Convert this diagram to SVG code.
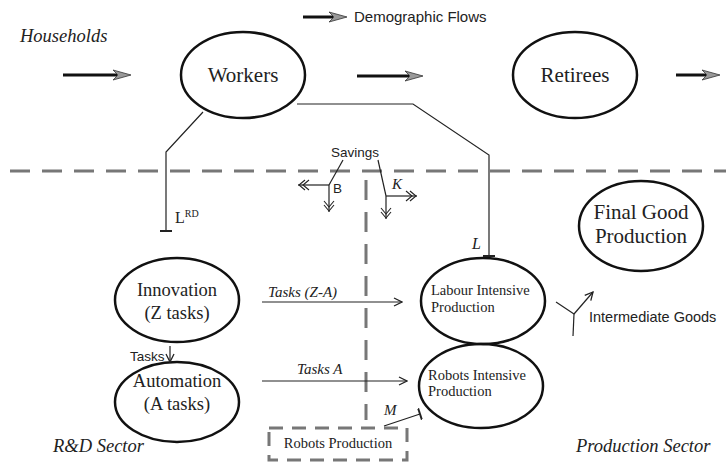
<svg xmlns="http://www.w3.org/2000/svg" width="726" height="462" viewBox="0 0 726 462">
<defs>
<style>
.ell{fill:none;stroke:#111;stroke-width:2.5}
.serif{font-family:"Liberation Serif","DejaVu Serif",serif;fill:#222}
.sans{font-family:"Liberation Sans","DejaVu Sans",sans-serif;fill:#222}
.it{font-style:italic}
.thin{fill:none;stroke:#222;stroke-width:1.2}
.flow{fill:none;stroke:#111;stroke-width:3}
.dash{fill:none;stroke:#777;stroke-width:3;stroke-dasharray:20 12}
</style>
<marker id="demo" viewBox="0 0 18 12" refX="4" refY="6" markerWidth="18" markerHeight="12" markerUnits="userSpaceOnUse" orient="auto">
<path d="M0,1 L18,6 L0,11 L5,6 Z" fill="#999" stroke="#333" stroke-width="0.8"/>
</marker>
<marker id="arr" viewBox="0 0 10 10" refX="9" refY="5" markerWidth="10" markerHeight="10" markerUnits="userSpaceOnUse" orient="auto">
<path d="M1,1 L9,5 L1,9" fill="none" stroke="#222" stroke-width="1.3"/>
</marker>
<marker id="dbl" viewBox="0 0 14 12" refX="13" refY="6" markerWidth="14" markerHeight="12" markerUnits="userSpaceOnUse" orient="auto">
<path d="M6,1 L12,6 L6,11 M2,1 L8,6 L2,11" fill="none" stroke="#222" stroke-width="1.1"/>
</marker>
<marker id="tbar" viewBox="0 0 12 12" refX="6" refY="6" markerWidth="12" markerHeight="12" markerUnits="userSpaceOnUse" orient="auto">
<path d="M6,0 L6,12" fill="none" stroke="#222" stroke-width="2"/>
</marker>
</defs>
<rect width="726" height="462" fill="#fff"/>

<text class="serif it" x="20" y="42" font-size="18.5">Households</text>
<text class="serif it" x="53" y="452" font-size="18.5">R&amp;D Sector</text>
<text class="serif it" x="576" y="452" font-size="18.5">Production Sector</text>

<g id="legend">
<line class="flow" x1="303" y1="17" x2="333" y2="17" marker-end="url(#demo)"/>
<text class="sans" x="354" y="22" font-size="15">Demographic Flows</text>
</g>

<g id="separators">
<line class="dash" x1="10" y1="171" x2="726" y2="171"/>
<line class="dash" x1="366" y1="180" x2="366" y2="420"/>
</g>

<g id="workers">
<ellipse class="ell" cx="243" cy="75" rx="62" ry="43"/>
<text class="serif" x="243" y="82" font-size="21" text-anchor="middle">Workers</text>
</g>
<g id="retirees">
<ellipse class="ell" cx="575" cy="75" rx="62" ry="43"/>
<text class="serif" x="575" y="82" font-size="21" text-anchor="middle">Retirees</text>
</g>
<g id="innovation">
<ellipse class="ell" cx="177" cy="300" rx="62" ry="42"/>
<text class="serif" x="177" y="296" font-size="18.5" text-anchor="middle">Innovation</text>
<text class="serif" x="177" y="319" font-size="18.5" text-anchor="middle">(Z tasks)</text>
</g>
<g id="automation">
<ellipse class="ell" cx="177" cy="402" rx="62" ry="40"/>
<text class="serif" x="177" y="387" font-size="18.5" text-anchor="middle">Automation</text>
<text class="serif" x="177" y="410" font-size="18.5" text-anchor="middle">(A tasks)</text>
</g>
<g id="labour">
<ellipse class="ell" cx="483" cy="301" rx="62" ry="43"/>
<text class="serif" x="431" y="295" font-size="14.5">Labour Intensive</text>
<text class="serif" x="431" y="312" font-size="14.5">Production</text>
</g>
<g id="robots">
<ellipse class="ell" cx="481" cy="386" rx="62" ry="42"/>
<text class="serif" x="428" y="380" font-size="14.5">Robots Intensive</text>
<text class="serif" x="428" y="396" font-size="14.5">Production</text>
</g>
<g id="final">
<ellipse class="ell" cx="641" cy="226" rx="62" ry="45"/>
<text class="serif" x="641" y="219" font-size="21" text-anchor="middle">Final Good</text>
<text class="serif" x="641" y="243" font-size="21" text-anchor="middle">Production</text>
</g>
<g id="robotsprod">
<rect x="269" y="428" width="138" height="32" fill="none" stroke="#777" stroke-width="3" stroke-dasharray="14 9"/>
<text class="serif" x="338" y="448" font-size="14.5" text-anchor="middle">Robots Production</text>
</g>
<g id="savings">
<text class="sans" x="331" y="157" font-size="13.5">Savings</text>
</g>

<g id="connectors">
<line class="flow" x1="63" y1="75" x2="117" y2="75" marker-end="url(#demo)"/>
<line class="flow" x1="357" y1="76" x2="409" y2="76" marker-end="url(#demo)"/>
<line class="flow" x1="676" y1="75" x2="706" y2="75" marker-end="url(#demo)"/>

<polyline class="thin" points="203,112 166,152 166,231" marker-end="url(#tbar)"/>
<polyline class="thin" points="297,104 413,104 489,155 489,256" marker-end="url(#tbar)"/>

<line class="thin" x1="170" y1="346" x2="170" y2="362" marker-end="url(#arr)"/>
<line class="thin" x1="262" y1="302" x2="402" y2="302" marker-end="url(#arr)"/>
<line class="thin" x1="262" y1="381" x2="407" y2="381" marker-end="url(#arr)"/>

<line class="thin" x1="343" y1="160" x2="329" y2="185"/>
<line class="thin" x1="329" y1="185" x2="298" y2="185" marker-end="url(#dbl)"/>
<line class="thin" x1="329" y1="185" x2="329" y2="212" marker-end="url(#dbl)"/>
<line class="thin" x1="378" y1="160" x2="386" y2="196"/>
<line class="thin" x1="386" y1="196" x2="417" y2="196" marker-end="url(#dbl)"/>
<line class="thin" x1="386" y1="196" x2="386" y2="219" marker-end="url(#dbl)"/>

<line class="thin" x1="384" y1="426" x2="420" y2="414" marker-end="url(#tbar)"/>

<line class="thin" x1="556" y1="302" x2="574" y2="314"/>
<line class="thin" x1="574" y1="314" x2="593" y2="292" marker-end="url(#arr)"/>
<line class="thin" x1="574" y1="314" x2="573" y2="336"/>
</g>

<g id="labels">
<text class="serif" x="175" y="223" font-size="16">L<tspan font-size="10" dy="-6">RD</tspan></text>
<text class="serif it" x="472" y="249" font-size="16">L</text>
<text class="sans" x="130" y="361" font-size="13.5">Tasks</text>
<text class="serif it" x="268" y="297" font-size="15">Tasks (Z-A)</text>
<text class="serif it" x="297" y="374" font-size="15">Tasks A</text>
<text class="sans" x="333" y="193" font-size="13.5">B</text>
<text class="serif it" x="392" y="189" font-size="15">K</text>
<text class="serif it" x="384" y="415" font-size="15">M</text>
<text class="sans" x="589" y="322" font-size="14.5">Intermediate Goods</text>
</g>
</svg>
